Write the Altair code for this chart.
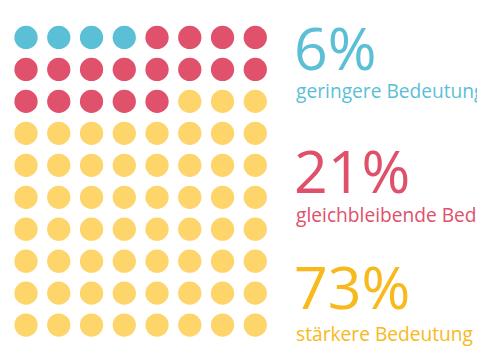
import altair as alt
import pandas as pd

# Data
categories = ["geringere Bedeutung", "gleichbleibende Bedeutung", "stärkere Bedeutung"]
percent_labels = ["6%", "21%", "73%"]
counts = [6, 21, 73]
dot_colors = ["#5bc0d6", "#e0516b", "#fdd56a"]
text_colors = ["#5bbfd6", "#e0506b", "#f7b91c"]
n_cols = 10
n_rows = 10

# Build waffle cells from counts (row-major fill)
cells = []
idx = 0
for cat, n in zip(categories, counts):
    for _ in range(n):
        cells.append({"row": idx // n_cols, "col": idx % n_cols, "category": cat})
        idx += 1
df = pd.DataFrame(cells)

W, H = 477, 352

dots = alt.Chart(df).mark_circle(size=560, opacity=1).encode(
    x=alt.X("col:Q", scale=alt.Scale(domain=[1.45, 15.77]), axis=None),
    y=alt.Y("row:Q", scale=alt.Scale(domain=[-0.83, 10.0], reverse=True), axis=None),
    color=alt.Color("category:N", scale=alt.Scale(domain=categories, range=dot_colors), legend=None),
)

layers = [dots]
big_y = [60, 185, 303]
small_y = [89, 215, 336]
for i in range(3):
    big = alt.Chart(pd.DataFrame({"t": [percent_labels[i]]})).mark_text(
        align="left", baseline="alphabetic", fontSize=60, font="Open Sans",
        fontWeight=500, color=text_colors[i]
    ).encode(text="t:N", x=alt.value(291), y=alt.value(big_y[i]))
    small = alt.Chart(pd.DataFrame({"t": [categories[i]]})).mark_text(
        align="left", baseline="alphabetic", fontSize=19.5, font="Open Sans",
        fontWeight=500, color=text_colors[i]
    ).encode(text="t:N", x=alt.value(293), y=alt.value(small_y[i]))
    layers += [big, small]

chart = alt.layer(*layers).properties(
    width=W, height=H,
    autosize=alt.AutoSizeParams(type="none"),
    padding=0,
    background="white",
).configure_view(stroke=None)

chart.save("out.html", embed_options={"renderer": "svg", "actions": False})
